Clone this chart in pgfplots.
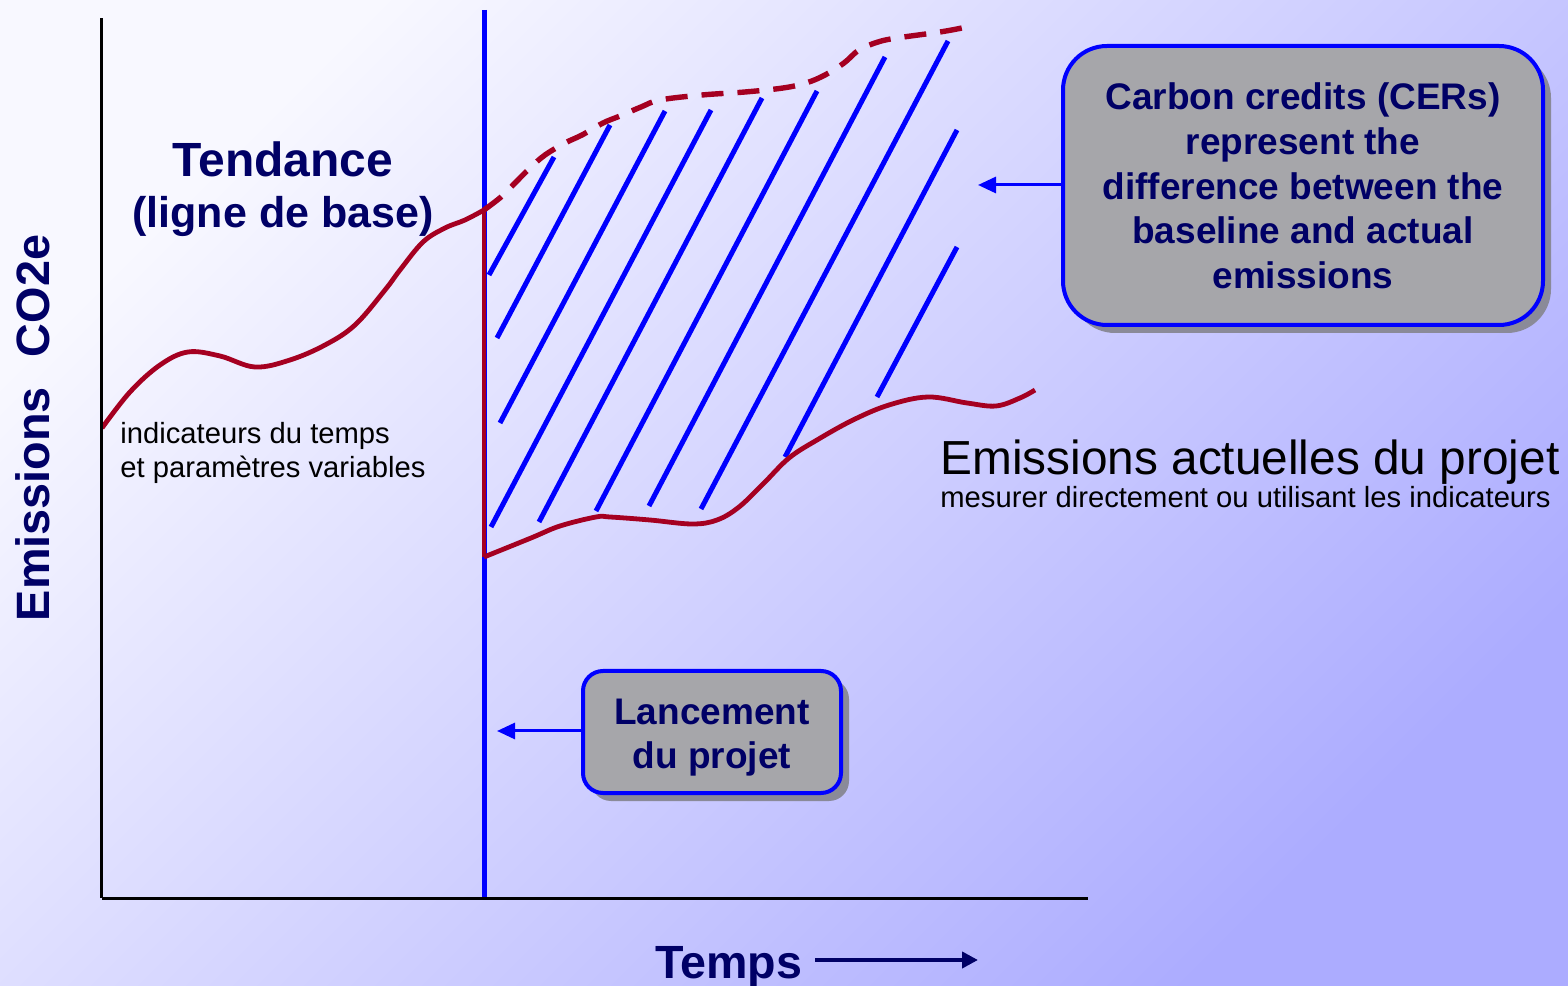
\documentclass[border=0pt]{standalone}
\usepackage{pgfplots}
\pgfplotsset{compat=1.18}
\usetikzlibrary{arrows.meta}
\usepackage{fontspec}
\setmainfont{Liberation Sans}
\definecolor{navy}{RGB}{0,0,102}
\definecolor{crim}{RGB}{165,0,33}
\definecolor{bgA}{RGB}{248,248,255}
\definecolor{bgB}{RGB}{172,172,255}
\definecolor{boxgray}{RGB}{166,166,170}
\definecolor{shadowgray}{RGB}{138,138,152}
\tikzset{
  boxtxt/.style={anchor=base, inner sep=0pt, text=navy, font=\bfseries\fontsize{18.5}{22}\selectfont},
}
\begin{document}
\begin{tikzpicture}
\begin{axis}[
  scale only axis, width=493pt, height=440pt,
  xmin=102, xmax=1088, ymin=87, ymax=967,
  axis lines*=left, axis line style={line width=1.5pt, black},
  ticks=none, clip=false, axis on top,
]
\shade[top color=bgA, bottom color=bgB, shading angle=45] (axis cs:0,0) rectangle (axis cs:1568,985);
\coordinate (BL) at (axis cs:0,0);
\coordinate (TR) at (axis cs:1568,985);

% hatch lines (carbon credits area)
\addplot[blue, line width=2.5pt] coordinates {(489,710) (554,828)};
\addplot[blue, line width=2.5pt] coordinates {(497,647) (610,860)};
\addplot[blue, line width=2.5pt] coordinates {(500,562) (665,874)};
\addplot[blue, line width=2.5pt] coordinates {(491,458) (711,875)};
\addplot[blue, line width=2.5pt] coordinates {(539,463) (762,887)};
\addplot[blue, line width=2.5pt] coordinates {(596,474) (817,894)};
\addplot[blue, line width=2.5pt] coordinates {(649,479) (885,928)};
\addplot[blue, line width=2.5pt] coordinates {(701,476) (948,944)};
\addplot[blue, line width=2.5pt] coordinates {(785,528) (957,855)};
\addplot[blue, line width=2.5pt] coordinates {(877,588) (957,738)};

% project start line
\addplot[blue, line width=2.5pt] coordinates {(484,975) (484,87)};

% baseline (trend)
\addplot[crim, line width=2.4pt, smooth, tension=0.6] coordinates {
(102,557) (130,593) (160,620) (188,633) (220,629) (255,618) (290,625) (325,640) (355,660) (385,695) (400,715) (423,743) (445,757) (465,765) (484,775)};
% baseline projected (dashed)
\addplot[crim, line width=2.7pt, smooth, tension=0.6, dash pattern=on 11pt off 7pt] coordinates {
(484,775) (501,788) (515,802) (530,817) (545,830) (565,842) (582,850) (603,862) (620,869) (641,878) (660,885) (702,890) (745,893) (783,897) (806,902) (825,910) (844,922) (859,935) (878,943) (897,947) (940,953) (962,957)};
% actual emissions
\addplot[crim, line width=2.4pt] coordinates {(484,775) (484,428)};
\addplot[crim, line width=2.4pt, smooth, tension=0.6] coordinates {
(484,428) (531,447) (560,459) (596,468) (610,468) (650,465) (692,461) (717,465) (739,478) (764,502) (789,527) (817,545) (853,565) (889,580) (928,588) (967,582) (996,579) (1020,587) (1035,595)};

% texts
\node[anchor=base, text=navy, font=\bfseries\fontsize{24}{28}\selectfont] at (axis cs:283,808) {Tendance};
\node[anchor=base, text=navy, font=\bfseries\fontsize{21.5}{26}\selectfont] at (axis cs:283,757) {(ligne de base)};
\node[anchor=base west, inner sep=0pt, font=\fontsize{14.6}{17}\selectfont] at (axis cs:120,541) {indicateurs du temps};
\node[anchor=base west, inner sep=0pt, font=\fontsize{14.6}{17}\selectfont] at (axis cs:120,507) {et paramètres variables};
\node[anchor=base west, inner sep=0pt, font=\fontsize{23.9}{28}\selectfont] at (axis cs:940,510) {Emissions actuelles du projet};
\node[anchor=base west, inner sep=0pt, font=\fontsize{14.6}{17}\selectfont] at (axis cs:940,477) {mesurer directement ou utilisant les indicateurs};
\node[anchor=base, inner sep=0pt, rotate=90, text=navy, font=\bfseries\fontsize{23.4}{27}\selectfont] at (axis cs:50,557) {Emissions\hspace{15pt}CO2e};
\node[anchor=base west, inner sep=0pt, text=navy, font=\bfseries\fontsize{23.3}{27}\selectfont] at (axis cs:655,7) {Temps};
\draw[navy, line width=2pt, -{Triangle[length=8pt, width=8pt]}] (axis cs:815,25) -- (axis cs:978,25);

% CER box
\fill[shadowgray, rounded corners=22pt] (axis cs:1071,652) rectangle (axis cs:1551,931);
\filldraw[fill=boxgray, draw=blue, line width=2pt, rounded corners=22pt] (axis cs:1063,660) rectangle (axis cs:1543,939);
\node[boxtxt] at (axis cs:1303,875) {Carbon credits (CERs)};
\node[boxtxt] at (axis cs:1303,830) {represent the};
\node[boxtxt] at (axis cs:1303,785) {difference between the};
\node[boxtxt] at (axis cs:1303,741) {baseline and actual};
\node[boxtxt] at (axis cs:1303,696) {emissions};
\draw[blue, line width=1.5pt, -{Triangle[length=9pt, width=8pt]}] (axis cs:1063,800) -- (axis cs:978,800);

% Lancement box
\fill[shadowgray, rounded corners=10pt] (axis cs:591,184) rectangle (axis cs:849,306);
\filldraw[fill=boxgray, draw=blue, line width=2pt, rounded corners=10pt] (axis cs:583,192) rectangle (axis cs:841,314);
\node[boxtxt] at (axis cs:712,260) {Lancement};
\node[boxtxt] at (axis cs:712,217) {du projet};
\draw[blue, line width=1.5pt, -{Triangle[length=9pt, width=8pt]}] (axis cs:583,254) -- (axis cs:497,254);
\end{axis}
\pgfresetboundingbox
\useasboundingbox (BL) rectangle (TR);
\end{tikzpicture}
\end{document}
